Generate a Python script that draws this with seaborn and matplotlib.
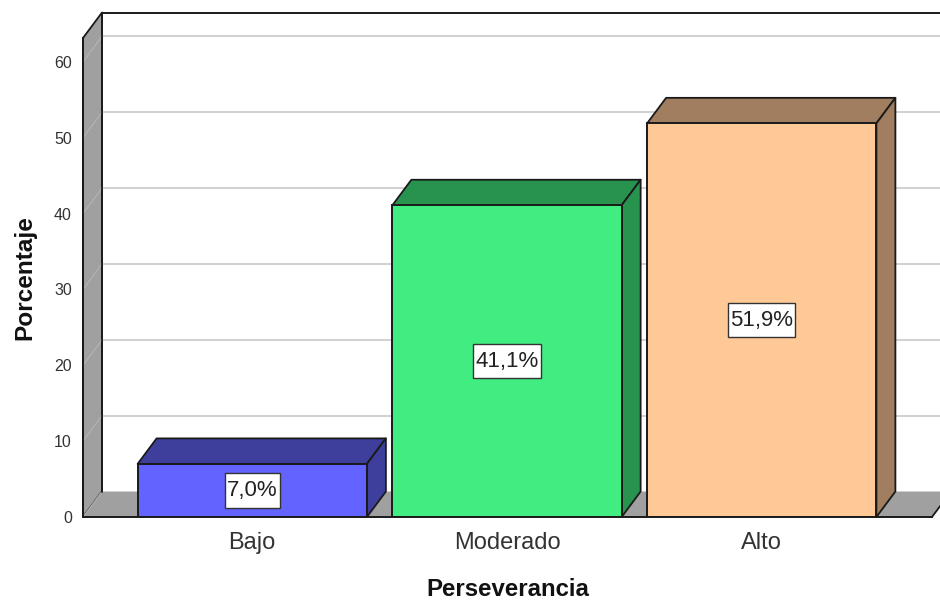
import matplotlib
matplotlib.use("Agg")
import matplotlib.pyplot as plt
from matplotlib.patches import Polygon
from matplotlib.lines import Line2D
from matplotlib.path import Path
import pandas as pd
import seaborn as sns

categories = ["Bajo", "Moderado", "Alto"]
values = [7.0, 41.1, 51.9]
front_colors = ["#6363FF", "#41EC80", "#FFC997"]
dark_colors = ["#3E3F9C", "#27934F", "#A07E5F"]
y_ticks = [0, 10, 20, 30, 40, 50, 60]

W, H = 940, 601
px_per_cat = 254.75
px_per_unit = 7.585
bar_width = 0.9
left_px, right_px, base_px, top_px = 83, 932, 517, 38
dx = 19 / px_per_cat
dy = 25.5 / px_per_unit
wall = "#A0A0A0"
ink = "#1A1A1A"

sns.set_theme(style="white")
plt.rcParams["font.family"] = ["Liberation Sans", "DejaVu Sans"]

fig = plt.figure(figsize=(W / 100, H / 100), dpi=100, facecolor="white")
ax = fig.add_axes([left_px / W, 1 - base_px / H, (right_px - left_px) / W, (base_px - top_px) / H])
ax.patch.set_alpha(0)

df = pd.DataFrame({"cat": categories, "val": values})
sns.barplot(data=df, x="cat", y="val", hue="cat", palette=front_colors, legend=False,
            width=bar_width, edgecolor=ink, linewidth=1.4, saturation=1, ax=ax, zorder=6)

x0 = -(252.25 - left_px) / px_per_cat
x1 = x0 + (right_px - left_px) / px_per_cat
y1 = (base_px - top_px) / px_per_unit
ax.set_xlim(x0, x1)
ax.set_ylim(0, y1)


def poly(pts, fc, z, ec=ink, lw=1.3):
    ax.add_patch(Polygon(pts, closed=True, facecolor=fc, edgecolor=ec, linewidth=lw,
                         clip_on=False, zorder=z, joinstyle="round"))


def label_box(x, y, w, h, mutation_size):
    px, py = 0.1 * mutation_size, 0.3 * mutation_size
    return Path([(x - px, y - py), (x + w + px, y - py), (x + w + px, y + h + py),
                 (x - px, y + h + py), (x - px, y - py)],
                closed=True)


# left wall and floor
poly([(x0, 0), (x0 + dx, dy), (x0 + dx, y1 + dy), (x0, y1)], wall, 1)
poly([(x0, 0), (x1, 0), (x1 + dx, dy), (x0 + dx, dy)], wall, 1, ec="none", lw=0)
ax.add_line(Line2D([x1, x1 + dx], [0, dy], color=ink, lw=1.3, clip_on=False, zorder=2))

# back wall outline and gridlines
ax.add_line(Line2D([x0 + dx, x1 + 2 * dx], [y1 + dy, y1 + dy], color=ink, lw=1.4, clip_on=False, zorder=3))
ax.add_line(Line2D([x0 + dx, x0 + dx], [dy, y1 + dy], color=ink, lw=1.3, clip_on=False, zorder=3))
for t in y_ticks[1:]:
    ax.add_line(Line2D([x0 + dx, x1 + 2 * dx], [t + dy, t + dy], color="#D2D2D2", lw=1.5, clip_on=False, zorder=2))
    ax.add_line(Line2D([x0, x0 + dx], [t, t + dy], color="#B4B4B4", lw=0.8, clip_on=False, zorder=2))
ax.add_line(Line2D([x0, x0 + dx], [0, dy], color="#B4B4B4", lw=0.8, clip_on=False, zorder=2))

# bar depth faces
half = bar_width / 2
for i, v in enumerate(values):
    poly([(i - half, v), (i + half, v), (i + half + dx, v + dy), (i - half + dx, v + dy)], dark_colors[i], 4)
    poly([(i + half, 0), (i + half, v), (i + half + dx, v + dy), (i + half + dx, dy)], dark_colors[i], 4)
    ax.text(i, v / 2, f"{v:.1f}%".replace(".", ","), ha="center", va="center", fontsize=16,
            color="#222222", zorder=8,
            bbox=dict(boxstyle=label_box, facecolor="white", edgecolor="#333333", linewidth=1))

for side in ("top", "right"):
    ax.spines[side].set_visible(False)
for side in ("left", "bottom"):
    ax.spines[side].set_color(ink)
    ax.spines[side].set_linewidth(1.4)
    ax.spines[side].set_zorder(7)

ax.set_yticks(y_ticks)
ax.tick_params(axis="y", length=0, pad=8, labelsize=11.5, labelcolor="#333333")
ax.tick_params(axis="x", length=0, pad=11, labelsize=17, labelcolor="#333333")
ax.set_xlabel("Perseverancia", fontsize=17.3, fontweight="bold", color="#111111", labelpad=17)
ax.set_ylabel("Porcentaje", fontsize=17.6, fontweight="bold", color="#111111", labelpad=13)

fig.savefig("out.png", dpi=100)
